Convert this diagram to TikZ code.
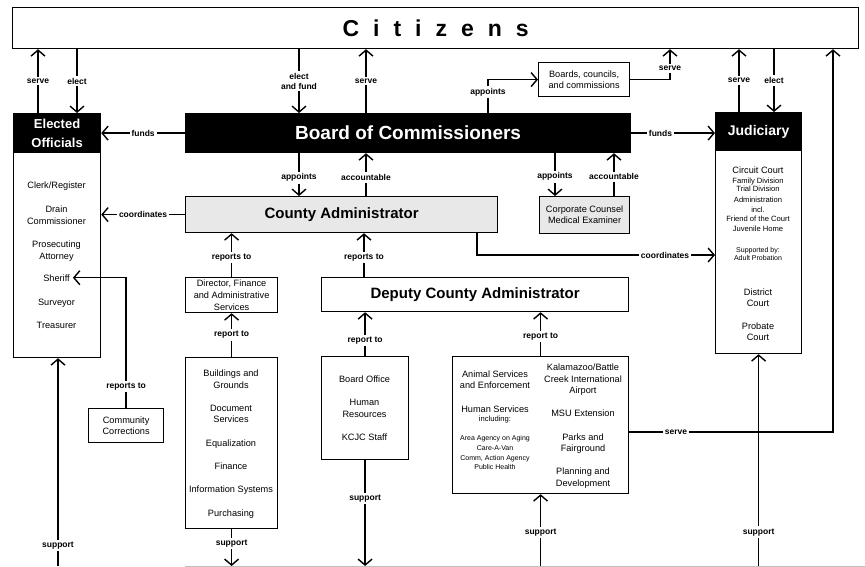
\documentclass[tikz,border=0pt]{standalone}
\usepackage{fontspec}
\setmainfont{Liberation Sans}
\usetikzlibrary{arrows.meta}

\tikzset{
  box/.style={draw, line width=1.2pt, anchor=north west, inner sep=0pt, align=center,
    font=\fontsize{9.2}{11.5}\selectfont},
  blackbox/.style={box, fill=black, text=white},
  graybox/.style={box, fill=black!9},
  conn/.style={line width=1.4pt, -{Straight Barb[length=6pt,width=14pt]}},
  lbl/.style={fill=white, font=\bfseries\fontsize{8.5}{10}\selectfont, inner sep=2pt, align=center},
  txt/.style={anchor=base, inner sep=3pt, font=\fontsize{9.2}{11}\selectfont},
  smalltxt/.style={anchor=base, font=\fontsize{7.6}{9}\selectfont},
  tinytxt/.style={anchor=base, font=\fontsize{7}{8}\selectfont}
}

\begin{document}
\begin{tikzpicture}[x=1pt, y=-1pt]
\useasboundingbox (0,0) rectangle (865,567);

% boxes
\node[box, minimum width=846, minimum height=41] (citizens) at (12,7)
  {\bfseries\fontsize{23}{23}\selectfont C\hspace{14pt}i\hspace{14pt}t\hspace{14pt}i\hspace{14pt}z\hspace{14pt}e\hspace{14pt}n\hspace{14pt}s};
\node[blackbox, minimum width=87, minimum height=39, font=\bfseries\fontsize{13}{19}\selectfont] (eohead) at (13,113) {Elected\\Officials};
\node[box, minimum width=87, minimum height=205] (eobody) at (13,152) {};
\node[blackbox, minimum width=445, minimum height=39, font=\bfseries\fontsize{19}{19}\selectfont] (board) at (185,113) {Board of Commissioners};
\node[box, minimum width=91, minimum height=34] (boards) at (538,62) {Boards, councils,\\and commissions};
\node[blackbox, minimum width=86, minimum height=38, font=\bfseries\fontsize{14}{14}\selectfont] (juhead) at (715,112) {Judiciary};
\node[box, minimum width=86, minimum height=203] (jubody) at (715,150) {};
\node[graybox, minimum width=312, minimum height=36, font=\bfseries\fontsize{15}{15}\selectfont] (ca) at (185,196) {County Administrator};
\node[graybox, minimum width=90, minimum height=37, font=\fontsize{9.2}{11}\selectfont] (corp) at (539,196) {Corporate Counsel\\Medical Examiner};
\node[box, minimum width=92, minimum height=35, font=\fontsize{9.2}{12}\selectfont] (director) at (185,277) {Director, Finance\\and Administrative\\Services};
\node[box, minimum width=307, minimum height=34, font=\bfseries\fontsize{15}{15}\selectfont] (dca) at (321,277) {Deputy County Administrator};
\node[box, minimum width=92, minimum height=171] (bldg) at (185,357) {};
\node[box, minimum width=87, minimum height=103] (boardoff) at (321,356) {};
\node[box, minimum width=176, minimum height=137] (animal) at (452,356) {};
\node[box, minimum width=75, minimum height=34] (commcorr) at (88,408) {Community\\Corrections};

% box contents
\foreach \y/\t in {189/{Clerk/Register}, 212/Drain, 224/Commissioner, 247/Prosecuting,
    259/Attorney, 305/Surveyor, 328/Treasurer}
  \node[txt] at (56.5,\y) {\t};
\node[txt] (sheriff) at (56.5,281) {Sheriff};

\foreach \y/\t in {174/Circuit Court, 295/District, 306/Court, 329/Probate, 340/Court}
  \node[txt] at (758,\y) {\t};
\foreach \y/\t in {183/Family Division, 192/Trial Division, 202/Administration, 212/incl.,
    221/Friend of the Court, 231/Juvenile Home}
  \node[smalltxt] at (758,\y) {\t};
\foreach \y/\t in {252/Supported by:, 260/Adult Probation}
  \node[tinytxt] at (758,\y) {\t};

\foreach \y/\t in {376/Buildings and, 388/Grounds, 411/Document, 422/Services,
    446/Equalization, 469/Finance, 492/Information Systems, 516/Purchasing}
  \node[txt] at (231,\y) {\t};

\foreach \y/\t in {382/Board Office, 405/Human, 417/Resources, 440/KCJC Staff}
  \node[txt] at (364.5,\y) {\t};

\foreach \y/\t in {377/Animal Services, 388/and Enforcement, 412/Human Services}
  \node[txt] at (495,\y) {\t};
\node[smalltxt] at (495,421) {including:};
\foreach \y/\t in {440/Area Agency on Aging, 450/Care-A-Van, 460/{Comm, Action Agency}, 469/Public Health}
  \node[tinytxt] at (495,\y) {\t};
\foreach \y/\t in {370/{Kalamazoo/Battle}, 382/Creek International, 393/Airport, 416/MSU Extension,
    440/Parks and, 451/Fairground, 474/Planning and, 486/Development}
  \node[txt] at (583,\y) {\t};

% citizens and the elected bodies
\draw[conn] (eohead.north -| 38,0) -- (citizens.south -| 38,0) node[lbl, midway] {serve};
\draw[conn] (citizens.south -| 77,0) -- (eohead.north -| 77,0) node[lbl, midway] {elect};
\draw[conn] (board.west) -- (eohead.east) node[lbl, midway] {funds};
\draw[conn] (citizens.south -| 299,0) -- (board.north -| 299,0) node[lbl, midway] {elect\\and fund};
\draw[conn] (board.north -| 366,0) -- (citizens.south -| 366,0) node[lbl, midway] {serve};
\draw[conn] (board.north -| 488,0) |- (boards.west) node[lbl, pos=0.31] {appoints};
\draw[conn] (boards.east) -| (citizens.south -| 670,0) node[lbl, pos=0.68] {serve};
\draw[conn] (board.east) -- (board.east -| juhead.west) node[lbl, pos=0.35] {funds};
\draw[conn] (juhead.north -| 739,0) -- (citizens.south -| 739,0) node[lbl, midway] {serve};
\draw[conn] (citizens.south -| 774,0) -- (juhead.north -| 774,0) node[lbl, midway] {elect};

% board to administration
\draw[conn] (board.south -| 299,0) -- (ca.north -| 299,0) node[lbl, pos=0.57] {appoints};
\draw[conn] (ca.north -| 366,0) -- (board.south -| 366,0) node[lbl, pos=0.43] {accountable};
\draw[conn] (board.south -| 555,0) -- (corp.north -| 555,0) node[lbl, pos=0.55] {appoints};
\draw[conn] (corp.north -| 614,0) -- (board.south -| 614,0) node[lbl, pos=0.45] {accountable};

% coordinates
\draw[conn] (ca.west) -- (ca.west -| eobody.east) node[lbl, midway] {coordinates};
\draw[conn] (ca.south -| 477,0) |- (jubody.west |- 0,255) node[lbl, pos=0.895] {coordinates};

% reporting lines
\draw[conn] (director.north) -- (director.north |- ca.south) node[lbl, pos=0.44] {reports to};
\draw[conn] (dca.north -| 364,0) -- (ca.south -| 364,0) node[lbl, pos=0.44] {reports to};
\draw[conn] (bldg.north) -- (director.south) node[lbl, midway] {report to};
\draw[conn] (boardoff.north) -- (boardoff.north |- dca.south) node[lbl, pos=0.36] {report to};
\draw[conn] (animal.north) -- (animal.north |- dca.south) node[lbl, pos=0.44] {report to};
\draw[conn] (commcorr.north) |- (sheriff.east) node[lbl, pos=0.083] {reports to};
\draw[conn] (animal.east |- 0,432) -| (citizens.south -| 833,0) node[lbl, pos=0.115] {serve};

% support from below
\coordinate (floor) at (0,566);
\draw[black!25, line width=0.8pt] (floor -| bldg.west) -- (floor -| 865,0);
\draw[conn] (floor -| 58,0) -- (eobody.south -| 58,0) node[lbl, pos=0.1] {support};
\draw[conn] (bldg.south) -- (floor -| bldg.south) node[lbl, pos=0.39] {support};
\draw[conn] (boardoff.south) -- (floor -| boardoff.south) node[lbl, pos=0.36] {support};
\draw[conn] (floor -| animal.south) -- (animal.south) node[lbl, pos=0.47] {support};
\draw[conn] (floor -| jubody.south) -- (jubody.south) node[lbl, pos=0.16] {support};
\end{tikzpicture}
\end{document}
